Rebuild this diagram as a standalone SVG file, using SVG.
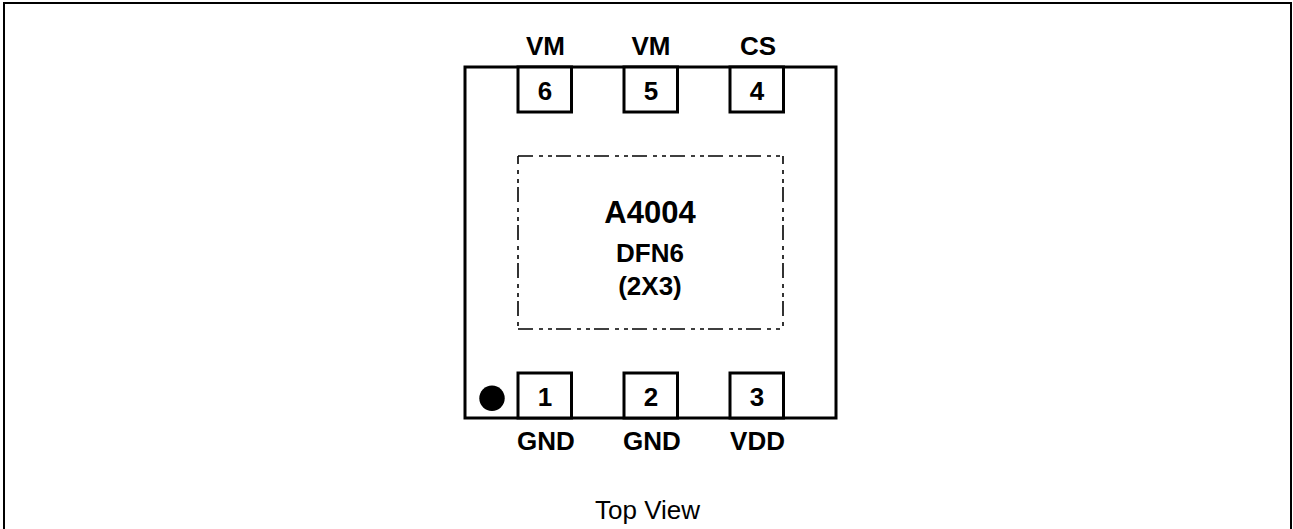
<svg xmlns="http://www.w3.org/2000/svg" width="1293" height="529" viewBox="0 0 1293 529">
<style>
text{font-family:"Liberation Sans",Arial,sans-serif;fill:#000;text-anchor:middle}
.b{font-weight:bold;font-size:26px}
.box{fill:#fff;stroke:#000;stroke-width:3}
.dash{fill:none;stroke:#000;stroke-width:1.600;stroke-dasharray:15 6 4 5 4 4}
</style>
<rect width="1293" height="529" fill="#fff"/>
<g id="frame"><path d="M4 529V3H1291V529" fill="none" stroke="#000" stroke-width="2"/></g>
<g id="package"><rect class="box" x="465" y="67" width="371" height="351"/></g>
<g id="pad"><path class="dash" d="M518 156H783"/><path class="dash" d="M518 329H783"/><path class="dash" d="M518 156V329" stroke-dashoffset="7"/><path class="dash" d="M783 156V329" stroke-dashoffset="7"/></g>
<g id="pin6"><rect class="box" x="518" y="67" width="53.500" height="45"/><text class="b" x="545" y="100">6</text><text class="b" x="545.500" y="55">VM</text></g>
<g id="pin5"><rect class="box" x="624" y="67" width="53.500" height="45"/><text class="b" x="651" y="100">5</text><text class="b" x="651" y="55">VM</text></g>
<g id="pin4"><rect class="box" x="730" y="67" width="53.500" height="45"/><text class="b" x="757" y="100">4</text><text class="b" x="758" y="55">CS</text></g>
<g id="pin1"><rect class="box" x="518" y="373" width="53.500" height="45"/><text class="b" x="545" y="406">1</text><text class="b" x="546" y="450">GND</text></g>
<g id="pin2"><rect class="box" x="624" y="373" width="53.500" height="45"/><text class="b" x="651" y="406">2</text><text class="b" x="652" y="450">GND</text></g>
<g id="pin3"><rect class="box" x="730" y="373" width="53.500" height="45"/><text class="b" x="757" y="406">3</text><text class="b" x="757.500" y="450">VDD</text></g>
<g id="dot"><circle cx="492" cy="398.300" r="12.700" fill="#000"/></g>
<g id="label"><text x="650" y="223" font-weight="bold" font-size="31">A4004</text><text class="b" x="650" y="262">DFN6</text><text class="b" x="650" y="295">(2X3)</text></g>
<g id="caption"><text x="647.500" y="519" font-size="26">Top View</text></g>
</svg>
